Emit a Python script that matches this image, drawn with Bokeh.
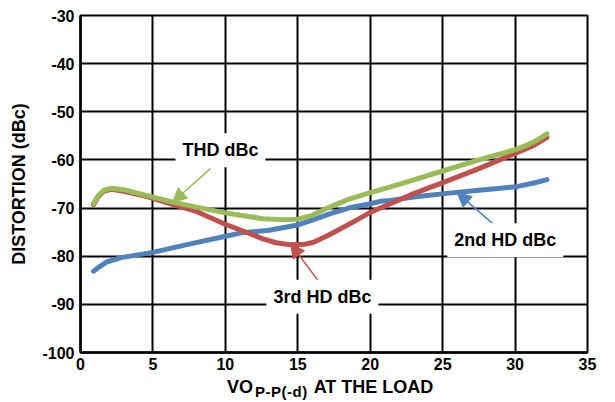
from bokeh.plotting import figure
from bokeh.models import FixedTicker, Label, Arrow, NormalHead, Range1d, Div
from bokeh.layouts import column
from bokeh.embed import file_html
from bokeh.resources import INLINE

# ---- data ----
x_ticks = [0, 5, 10, 15, 20, 25, 30, 35]
y_ticks = [-100, -90, -80, -70, -60, -50, -40, -30]
x_tick_labels = ["0", "5", "10", "15", "20", "25", "30", "35"]
y_tick_labels = ["-100", "-90", "-80", "-70", "-60", "-50", "-40", "-30"]

thd_x = [0.9, 1.2, 1.6, 2.1, 3.0, 4.6, 6.4, 8.0, 10.1, 11.0, 12.6, 14.0, 15.0, 16.0,
         17.2, 18.5, 20.0, 21.4, 22.5, 25.0, 27.5, 30.2, 31.3, 32.2]
thd_y = [-69.1, -67.5, -66.3, -65.9, -66.2, -67.4, -68.8, -69.8, -71.05, -71.5, -72.2,
         -72.4, -72.3, -71.5, -69.8, -68.2, -66.8, -65.6, -64.6, -62.3, -60.0, -57.7,
         -56.3, -54.6]

hd3_x = [0.9, 1.2, 1.6, 2.1, 3.0, 4.6, 6.4, 8.0, 10.1, 11.0, 12.6, 13.5, 14.5, 15.5,
         16.1, 17.0, 17.7, 19.0, 20.0, 20.7, 21.4, 23.0, 25.1, 27.5, 30.2, 31.3, 32.2]
hd3_y = [-69.3, -67.7, -66.5, -66.1, -66.5, -67.6, -69.3, -70.7, -73.5, -74.5, -76.4,
         -77.2, -77.6, -77.5, -77.1, -75.8, -74.7, -72.6, -70.9, -70.0, -69.1, -67.0,
         -64.6, -61.8, -58.4, -57.0, -55.3]

hd2_x = [0.9, 1.3, 1.8, 2.8, 5.0, 7.5, 10.1, 11.0, 13.0, 15.0, 16.0, 17.2, 18.5, 20.0,
         20.7, 21.4, 23.0, 25.1, 27.5, 29.0, 30.2, 31.3, 32.2]
hd2_y = [-83.1, -82.2, -81.2, -80.3, -79.2, -77.5, -75.8, -75.2, -74.6, -73.5, -72.5,
         -71.2, -70.0, -69.1, -68.6, -68.4, -67.7, -67.0, -66.3, -65.9, -65.5, -64.8,
         -64.1]

series_names = ["THD dBc", "3rd HD dBc", "2nd HD dBc"]
label_pos = [(9.66, -58.0), (16.7, -88.4), (29.33, -76.7)]
arrow_tail = [(8.97, -61.8), (16.56, -85.7), (28.6, -73.6)]
arrow_tip = [(6.35, -68.8), (14.5, -77.4), (26.0, -66.8)]

x_title_main = "VO"
x_title_sub = "P-P(-d)"
x_title_rest = "AT THE LOAD"
y_title = "DISTORTION (dBc)"

GREEN = "#9BBB59"
RED = "#C0504D"
BLUE = "#4F81BD"
FONT = "Liberation Sans"

p = figure(width=607, height=372, output_backend="svg", toolbar_location=None,
           x_range=Range1d(0, 35), y_range=Range1d(-100, -30),
           min_border_left=80, min_border_right=20, min_border_top=15,
           min_border_bottom=20)

p.background_fill_color = "white"
p.outline_line_color = "black"
p.outline_line_width = 2

p.xgrid.ticker = FixedTicker(ticks=x_ticks)
p.ygrid.ticker = FixedTicker(ticks=y_ticks)
for g in (p.xgrid, p.ygrid):
    g.grid_line_color = "black"
    g.grid_line_width = 2
    g.grid_line_alpha = 1.0

p.xaxis.ticker = FixedTicker(ticks=x_ticks)
p.yaxis.ticker = FixedTicker(ticks=y_ticks)
p.xaxis.major_label_overrides = dict(zip(x_ticks, x_tick_labels))
p.yaxis.major_label_overrides = dict(zip(y_ticks, y_tick_labels))
for ax in (p.xaxis, p.yaxis):
    ax.axis_line_color = "black"
    ax.axis_line_width = 2.5
    ax.major_tick_in = 0
    ax.major_tick_out = 0
    ax.minor_tick_in = 0
    ax.minor_tick_out = 0
    ax.major_label_text_font = FONT
    ax.major_label_text_font_style = "bold"
    ax.major_label_text_font_size = "16px"
    ax.major_label_text_color = "black"
p.xaxis.major_label_standoff = 5
p.yaxis.major_label_standoff = 6

p.yaxis.axis_label = y_title
p.yaxis.axis_label_text_font = FONT
p.yaxis.axis_label_text_font_style = "bold"
p.yaxis.axis_label_text_font_size = "18px"
p.yaxis.axis_label_text_color = "black"
p.yaxis.axis_label_standoff = 10

# curves
p.line(hd2_x, hd2_y, line_color=BLUE, line_width=5, line_join="round", line_cap="round")
p.line(hd3_x, hd3_y, line_color=RED, line_width=5, line_join="round", line_cap="round")
p.line(thd_x, thd_y, line_color=GREEN, line_width=5, line_join="round", line_cap="round")

# arrows and labels
for name, col, (lx, ly), (tx, ty), (hx, hy) in zip(
        series_names, [GREEN, RED, BLUE], label_pos, arrow_tail, arrow_tip):
    p.add_layout(Arrow(x_start=tx, y_start=ty, x_end=hx, y_end=hy,
                       line_color=col, line_width=1.5,
                       end=NormalHead(size=14, fill_color=col, line_color=col)))
    p.add_layout(Label(x=lx, y=ly, text=name, text_align="center",
                       text_baseline="middle", text_font=FONT,
                       text_font_style="bold", text_font_size="18px",
                       text_color="black", background_fill_color="white",
                       background_fill_alpha=1.0, padding=7))

# x-axis title with subscript, as HTML text below the figure
title_html = (
    "<div style=\"font-family:'Liberation Sans',Arial,sans-serif;font-weight:bold;"
    "font-size:18px;line-height:20px;color:black;padding-left:227px;padding-top:5px;"
    "white-space:nowrap;\">"
    + x_title_main
    + "<span style=\"font-size:15px;position:relative;top:4px;padding-left:2px;"
      "margin-right:6px;letter-spacing:0.5px;\">" + x_title_sub + "</span>"
    + x_title_rest + "</div>"
)
div = Div(text=title_html, width=607, height=28, margin=(0, 0, 0, 0))

layout = column(p, div, spacing=0)
layout.margin = (0, 0, 0, 0)

open("out.html", "w").write(file_html(layout, INLINE))
